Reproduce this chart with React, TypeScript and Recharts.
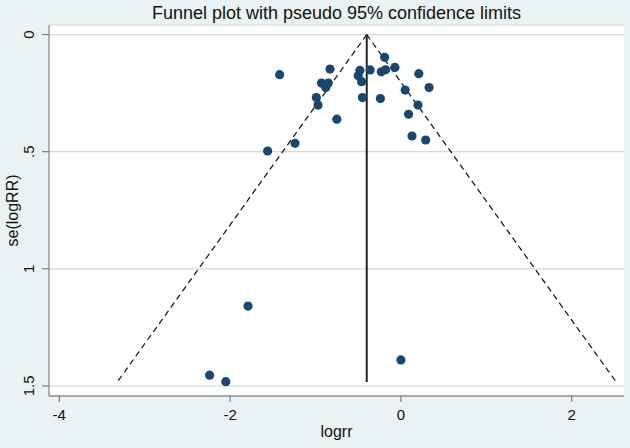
import { ScatterChart, Scatter, XAxis, YAxis, CartesianGrid, ReferenceLine, Label } from "recharts";

// study estimates
const logrr = [
  -1.42, -0.83, -0.93, -0.85, -0.88, -0.99, -0.97, -0.75, -1.24, -1.56,
  -0.48, -0.5, -0.46, -0.36, -0.45, -0.24, -0.19, -0.23, -0.18, -0.07,
  0.21, 0.33, 0.05, 0.2, 0.09, 0.13, 0.29,
  -1.79, -2.24, -2.05, 0.0,
];
const seLogRR = [
  0.171, 0.147, 0.207, 0.207, 0.226, 0.269, 0.301, 0.361, 0.464, 0.497,
  0.153, 0.176, 0.201, 0.151, 0.269, 0.273, 0.097, 0.159, 0.15, 0.14,
  0.167, 0.226, 0.237, 0.301, 0.34, 0.433, 0.45,
  1.159, 1.454, 1.482, 1.389,
];

const xTicks = [-4, -2, 0, 2];
const yTicks = [0, 0.5, 1, 1.5];

// pooled estimate and pseudo 95% limits
const pooled = -0.4;
const funnelSe = 1.483;
const funnelLeft = -3.32;
const funnelRight = 2.52;

const points = logrr.map((x, i) => ({ x, y: seLogRR[i] }));

const FONT = "'Liberation Sans', Arial, sans-serif";
const AXIS = "#6b6b6b";

const fmtY = (v: number) => (v === 0 ? "0" : v < 1 ? ".5" : String(v));

const YTick = (props: any) => {
  const { x, y, payload } = props;
  const bx = x - 6;
  return (
    <text x={bx} y={y} transform={`rotate(-90 ${bx} ${y})`} textAnchor="middle" fontSize={15} fontFamily={FONT} fill="#111">
      {fmtY(payload.value)}
    </text>
  );
};

const XTick = (props: any) => {
  const { x, y, payload } = props;
  return (
    <text x={x} y={y + 16} textAnchor="middle" fontSize={15} fontFamily={FONT} fill="#111">
      {payload.value}
    </text>
  );
};

const Dot = (p: any) => <circle cx={p.cx} cy={p.cy} r={4.6} fill="#1a476f" />;

export default function App() {
  return (
    <div style={{ position: "absolute", left: 0, top: 0, width: 630, height: 448, background: "#eaf2f3", fontFamily: FONT }}>
      <div
        style={{
          position: "absolute", top: 2, left: 49, width: 575, textAlign: "center",
          fontSize: 18, lineHeight: "22px", color: "#111",
        }}
      >
        Funnel plot with pseudo 95% confidence limits
      </div>
      <ScatterChart width={630} height={448} margin={{ top: 25, right: 6, left: 0, bottom: 0 }}>
        <CartesianGrid vertical={false} fill="#ffffff" stroke="#d4d9da" strokeWidth={1.2} />
        <XAxis
          type="number"
          dataKey="x"
          domain={[-4.12, 2.612]}
          ticks={xTicks}
          allowDataOverflow
          height={52}
          tickSize={6}
          stroke={AXIS}
          tickLine={{ stroke: AXIS }}
          tick={<XTick />}
        >
          <Label
            content={(p: any) => {
              const vb = p.viewBox;
              return (
                <text x={vb.x + vb.width / 2} y={vb.y + 41} textAnchor="middle" fontSize={16} fontFamily={FONT} fill="#111">
                  logrr
                </text>
              );
            }}
          />
        </XAxis>
        <YAxis
          type="number"
          dataKey="y"
          reversed
          domain={[-0.041, 1.543]}
          ticks={yTicks}
          allowDataOverflow
          width={49}
          tickSize={7}
          stroke={AXIS}
          tickLine={{ stroke: AXIS }}
          tick={<YTick />}
        >
          <Label
            content={(p: any) => {
              const vb = p.viewBox;
              const cx = vb.x + 18;
              const cy = vb.y + vb.height / 2;
              return (
                <text x={cx} y={cy} transform={`rotate(-90 ${cx} ${cy})`} textAnchor="middle" fontSize={16} fontFamily={FONT} fill="#111">
                  se(logRR)
                </text>
              );
            }}
          />
        </YAxis>
        <ReferenceLine segment={[{ x: pooled, y: 0 }, { x: funnelLeft, y: funnelSe }]} stroke="#111" strokeWidth={1.2} strokeDasharray="6 4" />
        <ReferenceLine segment={[{ x: pooled, y: 0 }, { x: funnelRight, y: funnelSe }]} stroke="#111" strokeWidth={1.2} strokeDasharray="6 4" />
        <ReferenceLine segment={[{ x: pooled, y: 0 }, { x: pooled, y: funnelSe }]} stroke="#222" strokeWidth={2} />
        <Scatter data={points} shape={<Dot />} isAnimationActive={false} />
      </ScatterChart>
    </div>
  );
}
